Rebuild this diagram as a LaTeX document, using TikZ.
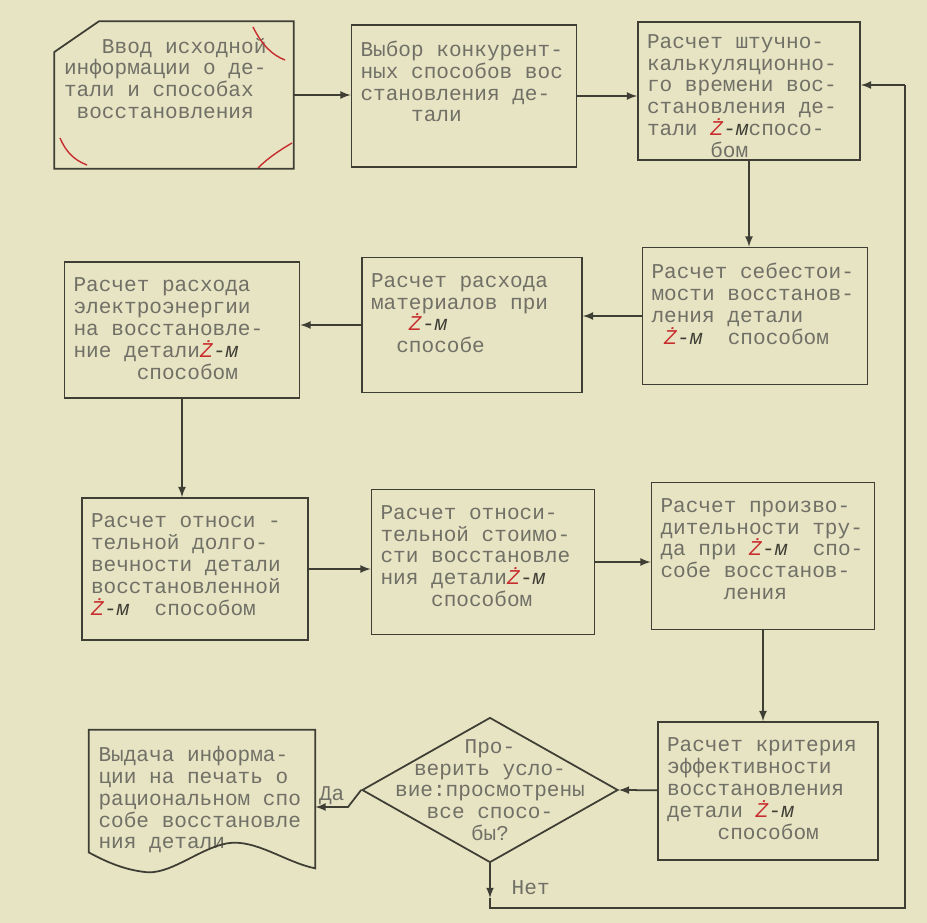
\documentclass[tikz,border=0pt]{standalone}
\usepackage{fontspec}
\setmonofont{Liberation Mono}
\usetikzlibrary{shapes.geometric,calc}
\definecolor{paper}{RGB}{231,228,196}
\definecolor{ink}{RGB}{62,62,52}
\definecolor{typeink}{RGB}{112,112,102}
\definecolor{zred}{RGB}{200,45,45}
\newcommand\zm{\textcolor{zred}{\textit{Ż}}\textcolor{ink}{-\textit{м}}}
\newcommand\ind[1]{\hspace*{#1\fontdimen2\font}}

\begin{document}
\begin{tikzpicture}[x=0.02cm, y=-0.02cm, line width=1pt, color=ink]
\tikzset{
    typetext/.style={font=\ttfamily\fontsize{12}{12.4}\selectfont, text=typeink},
    box/.style 2 args={rectangle, draw=ink, typetext, inner xsep=0.18cm, inner ysep=0.32cm,
        execute at begin node={\begin{minipage}[c][\dimexpr#2-0.64cm\relax][t]{\dimexpr#1-0.36cm\relax}},
        execute at end node={\end{minipage}}},
    redmark/.style={zred, line width=0.8pt}
}
\fill[paper] (0,0) rectangle (927,923);
\useasboundingbox (0,0) rectangle (927,923);

% nodes
\node[box={4.76cm}{2.92cm}, draw=none] (in)   at (174,95)  {\ind3Ввод исходной\\информации о де-\\тали и способах\\\ind1восстановления};
\node[box={4.5cm}{2.84cm}]             (sel)  at (464,96)  {Выбор конкурент-\\ных способов вос\\становления де-\\\ind4тали};
\node[box={4.44cm}{2.9cm}, inner ysep=0.25cm] (time) at (749,91)  {\fontsize{12}{11.4}\selectfont Расчет штучно-\\калькуляционно-\\го времени вос-\\становления де-\\тали~\zm спосо-\\\ind5бом};
\node[box={4.5cm}{2.74cm}]             (cost) at (755,316) {Расчет себестои-\\мости восстанов-\\ления детали\\\ind1\zm~~способом};
\node[box={4.4cm}{2.7cm}]              (mat)  at (472,325) {Расчет расхода\\материалов при\\\ind3\zm\\\ind2способе};
\node[box={4.7cm}{2.72cm}]             (el)   at (182,330) {Расчет расхода\\электроэнергии\\на восстановле-\\ние детали\zm\\\ind5способом};
\node[box={4.52cm}{2.84cm}]            (dur)  at (195,569) {Расчет относи -\\тельной долго-\\вечности детали\\восстановленной\\\zm~~способом};
\node[box={4.46cm}{2.9cm}]             (rel)  at (483,562) {Расчет относи-\\тельной стоимо-\\сти восстановле\\ния детали\zm\\\ind4способом};
\node[box={4.46cm}{2.94cm}]            (prod) at (763,556) {Расчет произво-\\дительности тру-\\да при~\zm~~спо-\\собе восстанов-\\\ind5ления};
\node[box={4.4cm}{2.76cm}]             (crit) at (768,791) {Расчет критерия\\эффективности\\восстановления\\детали~\zm\\\ind4способом};
\node[diamond, draw=ink, minimum width=5.12cm, minimum height=2.9cm, inner sep=0pt,
      label={[typetext, align=center]center:{Про-\\верить усло-\\вие:просмотрены\\все спосо-\\бы?}}] (chk) at (490,790) {};
\node[box={4.5cm}{2.42cm}, draw=none]  (out)  at (202,791) {Выдача информа-\\ции на печать о\\рациональном спо\\собе восстановле\\ния детали};

% outlines of the card and the document
\draw ($(in.north west)+(0,31)$) -- ($(in.north west)+(45,0)$) -- (in.north east) -- (in.south east) -- (in.south west) -- cycle;
\draw (out.north west) -- (out.north east) -- ($(out.south east)+(0,16)$)
    .. controls +(-30,-6) and +(28,-5) .. ($(out.south)+(25,-9)$)
    .. controls +(-27,5) and +(25,0) .. ($(out.south west)+(60,20)$)
    .. controls +(-25,-2) and +(15,8) .. (out.south west) -- cycle;

% red marks
\draw[redmark] (253,27) .. controls (262,45) and (272,55) .. (285,60);
\draw[redmark] (60,138) .. controls (66,152) and (74,160) .. (87,165);
\draw[redmark] (258,168) .. controls (268,158) and (280,150) .. (292,143);

% arrows
\draw[-latex] (in) -- (in -| sel.west);
\draw[-latex] (sel) -- (sel -| time.west);
\draw[-latex] (time) -- (time |- cost.north);
\draw[-latex] (cost) -- (cost -| mat.east);
\draw[-latex] (mat) -- (mat -| el.east);
\draw[-latex] (el) -- (el |- dur.north);
\draw[-latex] (dur) -- (dur -| rel.west);
\draw[-latex] (rel) -- (rel -| prod.west);
\draw[-latex] (prod) -- (prod |- crit.north);
\draw[-latex] (crit) -- (chk.east);
\coordinate (yes) at (348,807);
\draw[-latex] (chk.west) -- (yes) -- node[above, typetext, inner sep=1pt] {Да} (yes -| out.east);

% loop back
\coordinate (nb) at (490,898);
\coordinate (nc) at (490,908);
\coordinate (rc) at (905,908);
\coordinate (rt) at (905,85);
\draw[-latex] (chk.south) -- node[pos=0.7, right, xshift=0.3cm, typetext] {Нет} (nb);
\draw (nb) -- (nc) -- (rc) -- (rt);
\draw[-latex] (rt) -- (rt -| time.east);

\end{tikzpicture}
\end{document}
